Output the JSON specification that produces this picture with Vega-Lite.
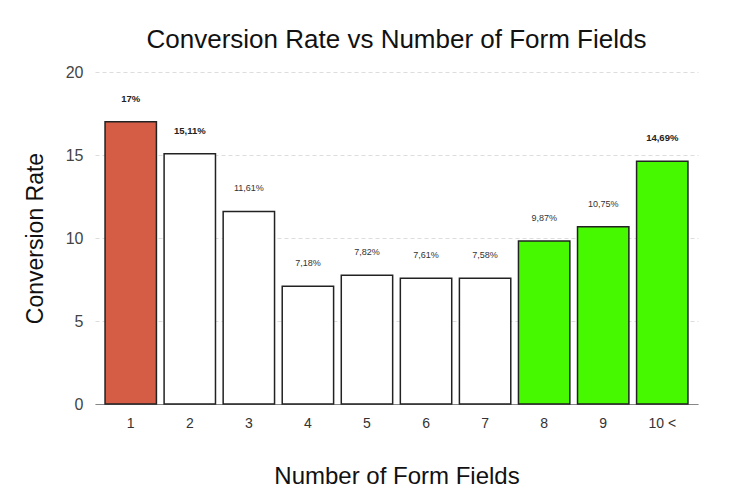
{
  "$schema": "https://vega.github.io/schema/vega-lite/v6.json",
  "width": 603,
  "height": 332,
  "autosize": "none",
  "padding": {"left": 95, "top": 72, "right": 57, "bottom": 96},
  "background": "white",
  "config": {
    "font": "Liberation Sans",
    "view": {"stroke": null}
  },
  "title": {
    "text": "Conversion Rate vs Number of Form Fields",
    "fontSize": 26,
    "fontWeight": "normal",
    "color": "#111",
    "anchor": "middle",
    "offset": 11
  },
  "data": {
    "values": [
      {"fields": "1", "rate": 17.0, "label": "17%"},
      {"fields": "2", "rate": 15.08, "label": "15,11%"},
      {"fields": "3", "rate": 11.6, "label": "11,61%"},
      {"fields": "4", "rate": 7.1, "label": "7,18%"},
      {"fields": "5", "rate": 7.75, "label": "7,82%"},
      {"fields": "6", "rate": 7.57, "label": "7,61%"},
      {"fields": "7", "rate": 7.57, "label": "7,58%"},
      {"fields": "8", "rate": 9.82, "label": "9,87%"},
      {"fields": "9", "rate": 10.68, "label": "10,75%"},
      {"fields": "10 <", "rate": 14.62, "label": "14,69%"}
    ]
  },
  "encoding": {
    "x": {
      "field": "fields",
      "type": "nominal",
      "sort": null,
      "scale": {"paddingInner": 0.13, "paddingOuter": 0.17},
      "axis": {
        "title": "Number of Form Fields",
        "titleFontSize": 24,
        "titleFontWeight": "normal",
        "titleColor": "#111",
        "titlePadding": 34,
        "labelAngle": 0,
        "labelFontSize": 14,
        "labelColor": "#333",
        "labelPadding": 12,
        "ticks": false,
        "domainColor": "#888",
        "domainWidth": 1
      }
    }
  },
  "layer": [
    {
      "mark": {"type": "bar", "stroke": "#222", "strokeWidth": 1.5},
      "encoding": {
        "y": {
          "field": "rate",
          "type": "quantitative",
          "scale": {"domain": [0, 20]},
          "axis": {
            "title": "Conversion Rate",
            "titleFontSize": 23,
            "titleFontWeight": "normal",
            "titleColor": "#111",
            "titlePadding": 18,
            "values": [0, 5, 10, 15, 20],
            "labelFontSize": 16,
            "labelColor": "#444",
            "labelPadding": 12,
            "ticks": false,
            "domain": false,
            "gridColor": "#ddd",
            "gridDash": [4, 3],
            "gridWidth": 1
          }
        },
        "fill": {
          "field": "fields",
          "type": "nominal",
          "sort": null,
          "legend": null,
          "scale": {
            "domain": ["1", "2", "3", "4", "5", "6", "7", "8", "9", "10 <"],
            "range": ["#D65D45", "#ffffff", "#ffffff", "#ffffff", "#ffffff", "#ffffff", "#ffffff", "#46F900", "#46F900", "#46F900"]
          }
        }
      }
    },
    {
      "transform": [{"filter": "datum.rate <= 14"}],
      "mark": {"type": "text", "baseline": "bottom", "dy": -18, "fontSize": 9, "color": "#333", "fontWeight": "normal"},
      "encoding": {
        "y": {"field": "rate", "type": "quantitative"},
        "text": {"field": "label"}
      }
    },
    {
      "transform": [{"filter": "datum.rate > 14"}],
      "mark": {"type": "text", "baseline": "bottom", "dy": -18, "fontSize": 9.5, "color": "#222", "fontWeight": "bold"},
      "encoding": {
        "y": {"field": "rate", "type": "quantitative"},
        "text": {"field": "label"}
      }
    }
  ]
}
